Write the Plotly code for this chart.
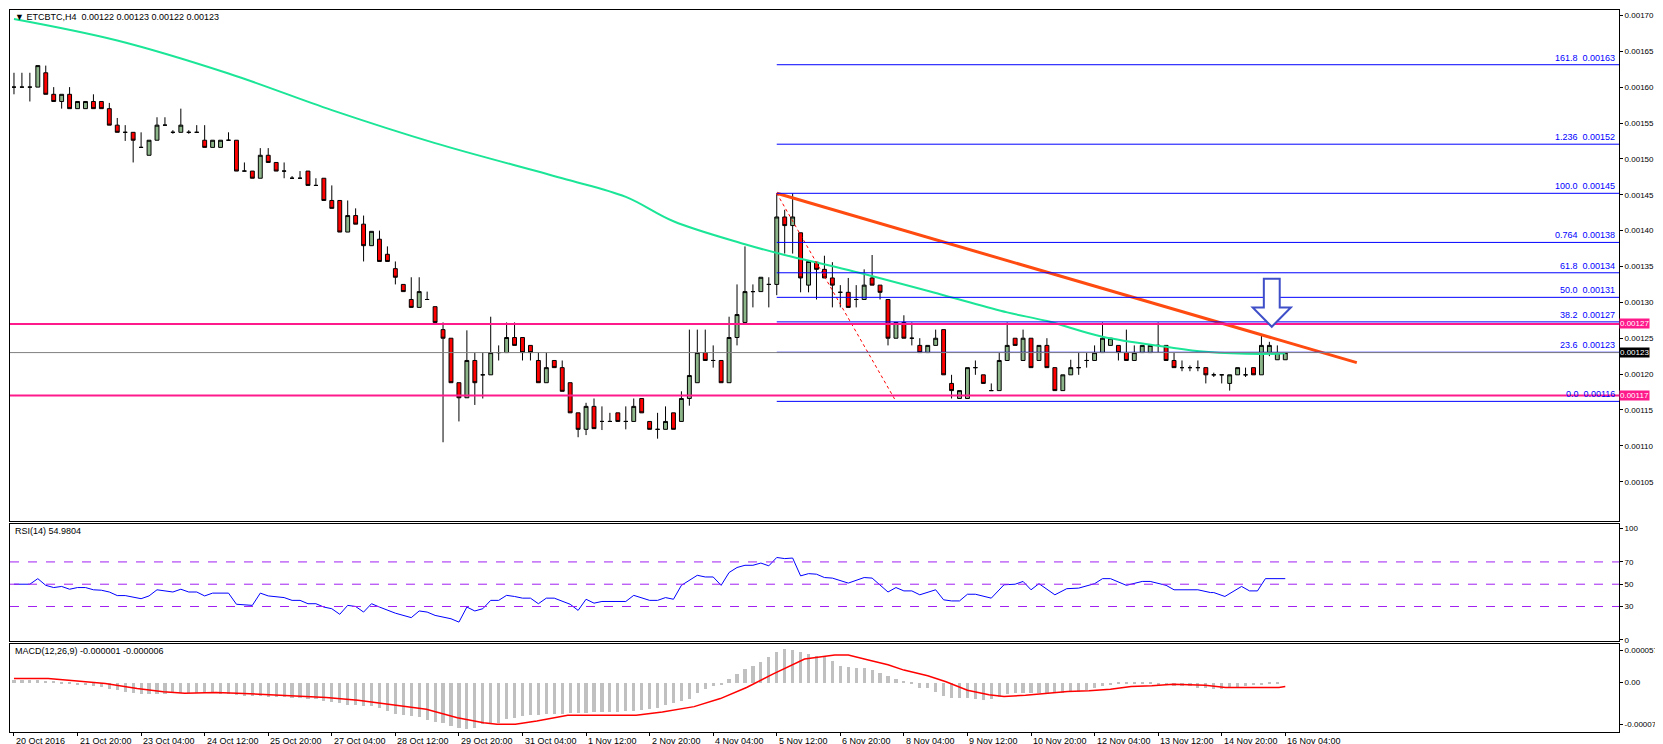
import plotly.graph_objects as go

# price data in units of 0.00001 BTC, H4 bars (bar 0 = 20 Oct 2016)
opens = [160,160,160,160,162,159,158,159,157,157,158,158,157,154.7,153.7,153.7,151.6,150.5,152.6,154.7,
         153.7,153.7,153.7,153.7,152.6,151.6,151.6,152.6,152.6,148.3,148.3,147.3,150.5,149.5,148.3,147.3,147.3,148.3,146.3,147.3,
         144.2,144.2,139.8,142.1,140.9,137.9,138.8,136.7,134.7,132.5,130.4,129.3,130.4,129.4,126.2,125,118.8,116.7,121.9,119.9,
         119.9,123,123,125.1,125.1,124,121.9,118.8,121.9,120.9,118.8,114.6,112.3,115.5,113.4,113.4,114.6,113.4,113.4,116.6,
         113.4,112.3,112.3,114.6,113.4,116.6,118.8,123,121.9,121.9,118.8,125.1,127.2,131.5,131.5,132.5,132.5,141.9,140.7,139.7,
         132.4,135.6,134.6,133.4,131.4,131.4,130.4,130.4,133.4,132.4,130.4,125,127.2,125,124,123,124,126.2,118.7,116.6,
         116.6,120.9,119.9,117.7,117.7,121.9,125,121.9,125,121.9,124,120.9,117.7,119.9,120.9,121.9,121.9,123,124,124,
         123,121.9,123,123,124,124,121.9,120.9,120.9,120.9,120.9,119.9,119.9,118.7,119.9,119.9,120.9,119.9,123,122,122]
highs = [162,162,162,163,163,160,159,160,158,158,159,158,157.8,155.7,154.7,153.7,153.7,152.6,155.8,155.8,
         154,157,154,154.7,154.7,152.6,152.6,153.7,152.6,149.5,148.3,151.5,151.5,149.5,149.5,147.6,148.3,148.3,147.3,147.3,
         146.3,144.2,144.2,143.1,142.1,139.9,140,137.8,135.7,132.5,133.5,133.5,131.5,129.4,127.2,125,118.8,126.1,123,123,
         128,124,127.2,127.2,125.1,124,123,123,121.9,121.9,118.8,114.6,116,116.6,115.5,114.6,114.6,115.5,116.6,116.6,
         113.4,114.6,115.5,114.6,117.6,126.2,126.2,126.2,124,121.9,128,132.5,137.8,132.5,133.5,133.5,145.2,142.9,145.2,139.7,
         135.7,135.6,136.5,135.6,132.4,133.4,132.4,134.6,136.6,132.4,130.4,127.2,128.2,127.2,125,124,126.2,126.2,119.9,117.7,
         120.9,121.9,119.9,118.7,123,127.2,125,126.2,125,124,125,120.9,119.9,122,123,123,124,127.2,125,124,
         126.2,124,124,124,127.2,124,123,121.9,121.2,121.9,120.9,120.2,119.9,119.9,120.9,120.9,120.9,125.5,124.5,124,123]
lows = [159,160,158,160,159,158,157,157,157,157,157,157,154.7,153.7,152.5,149.5,151.6,150.5,152.6,154.7,
        153.5,153.7,153.5,153.7,151.6,151.6,151.6,152.6,148.3,148.3,147.3,147.3,149.5,148.3,147.3,147.3,147.3,146.3,146.3,144.2,
        143.1,139.8,139.8,140.9,135.7,137.9,135.7,135.7,132.5,131.5,129.3,129.3,130.4,127.2,110.5,118.8,113.4,116.7,115.7,116.6,
        119.9,121.9,123,124,121.9,121.9,118.8,118.8,120.9,117.6,114.6,111.2,111.5,112.4,112.2,113.4,113.4,112.3,113.4,114.6,
        112.3,111,112.3,112.3,113.4,115.6,118.8,121.9,120.9,118.8,118.8,124,127.2,129.3,131.5,129.3,131,136.8,136.8,131.4,
        131.4,130.4,133.4,129.3,129.3,129.3,129.3,130.4,132.4,130.4,124,125,125,124,123,123,124,119.9,116.6,116.6,
        116.6,119.9,118.7,117.7,117.7,121.9,124,121.9,120.9,121.9,120.9,117.7,117.7,119.9,119.9,120.9,121.9,123,124,121.9,
        121.9,121.9,123,123,123,121.9,120.9,120.4,120.4,120.4,118.7,119.6,118.7,117.7,119.9,119.6,119.9,119.9,122.5,122,122]
closes = [160,160,160,163,159,158,159,157,158,158,157,157,154.7,153.7,153.7,152.6,151.6,152.6,154.7,154.7,
          153.7,154.7,153.7,153.7,151.6,152.6,152.6,152.6,148.3,148.3,147.3,150.5,149.5,148.3,148.3,147.3,147.3,146.3,146.3,144.2,
          143.1,139.8,142.1,140.9,137.9,139.9,135.7,135.7,133.5,131.5,129.3,131.5,130.4,127.2,125,118.8,116.7,121.9,118.8,119.9,
          123,123,125.1,124,123,123,118.8,120.9,120.9,117.6,114.6,112.3,115.5,112.4,113.4,113.4,113.4,113.4,115.5,114.6,
          112.3,112.3,113.4,112.3,116.6,119.8,123,121.9,121.9,118.8,125.1,128.3,131.5,131.5,133.5,132.5,141.9,140.7,141.9,133.4,
          135.7,134.6,133.4,132.4,131.4,129.3,130.4,132.4,132.4,131.4,125,127.2,125,125,123,124,125,119.9,117.7,117.7,
          120.9,120.9,118.7,117.7,121.9,124,124,125,120.9,124,120.9,117.7,119.9,120.9,120.9,121.9,123,125,125,123,
          121.9,123,124,124,124,121.9,120.9,120.9,120.9,120.9,119.9,119.9,119.9,119.9,120.9,119.9,119.9,124,124,123,123]

ma_bars = [0, 13, 27, 40, 53, 69, 77, 83, 92, 97, 105, 117, 125, 130, 137, 145, 150, 157, 160]
ma_vals = [169.5, 166.5, 161.9, 156.8, 152.2, 147.3, 144.7, 141.3, 138.1, 136.6, 134.5, 131.0, 128.6, 127.4, 125.2, 123.8, 123.1, 122.8, 122.9]

rsi_bars = [0,2,3,4,5,6,7,8,9,10,11,12,13,14,16,17,18,20,21,22,23,24,25,27,28,30,31,32,34,35,36,37,38,39,40,41,42,43,44,45,46,47,48,50,51,52,53,55,56,57,58,59,60,61,62,63,64,65,66,67,68,70,71,72,73,74,77,78,79,80,81,82,83,84,86,87,88,89,90,91,92,93,94,95,96,97,98,99,100,101,102,103,
            105,107,108,110,111,112,113,114,116,117,118,119,120,121,123,124.6,126,127,128,129,131,132.5,134,135.3,136,137,138,140,141,142,143,145,146,149,150.6,151,152.4,154.5,155.5,156.5,157.5,160]
rsi_vals = [50,50,55,49,47,48,45.5,47,47,45,44.6,43,39.8,39.8,37,39.5,45,43,45.5,43,43,39.5,42,42,32,31,42,39.5,38,35.5,35.5,32.5,32.5,29.5,28,23,31,30,25,32.5,29.5,27,24,20,26,25,22,19,16,29.5,26,28,35.5,35.5,40,39,37.5,37.5,32.5,37.5,37.5,32,26.5,36.5,33,34.5,34.5,40,38,35.5,35.5,38,36.5,49,58,56.5,56.5,49,60.5,65,67,67,69,66.5,74,73,73.5,57.5,59.5,59,56,55.5,
            51,56,55.5,43,47,44,44,40.5,45,36,35,35,41,41,37.5,49.5,50,52.5,45,50.5,40.5,46,46.5,49.5,50.5,55,55,49,50.5,52.5,52.5,49,45,45,42.5,42.5,39,48,44,44,55,55]

# MACD main (histogram) and signal, units of 0.000001
macd_hist = [5,5,5,4,3,1,-1,-3,-4,-5,-7,-8,-12,-14,-16,-18,-20,-21,-21,-21,-18,-18,-18,-18,-18,-19,-20,-21,-22,-23,-24,-24,-25,-25,
             -26,-27,-28,-29,-30,-33,-35,-37,-39,-40,-41,-42,-45,-50,-55,-58,-60,-62,-66,-70,-71,-77,-80,-82,-81,-74,-73,-71,-65,-63,
             -60,-58,-57,-56,-55,-55,-54,-54,-54,-53,-53,-52,-52,-51,-51,-49,-47,-45,-40,-36,-33,-30,-18,-12,-6,-5,7,15,24,28.6,36,45,54,60,57,54,51,48,45,
             39,30,27,26,26,23,17,12,6,1,-3,-9,-10,-16,-23,-28,-28,-28,-29,-31,-29,-25,-21,-18,-18,-18,-18,-18,-19,-18,-17,-16,-13,-9,-6,-4,
             -3,-3,-2,-3,-3,-4,-5,-6,-6,-7,-9,-10,-12,-12,-10,-10,-7,-5,-4,-3,-1]
sig_bars = [0,4.3,7.6,11.5,15.5,18.8,21.5,25.4,28.1,32,35.3,39.3,43.3,47.3,51.9,55.8,59.1,60.8,63.1,65.8,69.7,73.7,78.3,81.6,85.6,88.9,92.2,95.5,99.5,103.3,
            105,107.4,110,112,115,117.3,120,122.7,124.6,127.3,130,132.6,135.3,138,140.6,143.2,145.9,149.9,152.5,156.5,159.2,160]
sig_vals = [7.1,7.1,3,-1.8,-10.7,-16.7,-19,-17.9,-19,-22,-25,-26.8,-31.5,-38.7,-47.6,-62.5,-71.4,-74.4,-74.4,-68.5,-58.3,-58.3,-58.3,-52.4,-42.9,-28.6,-8.9,14.9,41.7,48.8,
            48.8,40.5,31.5,22,12,1.2,-13.7,-22,-25,-22.6,-19,-16,-14.9,-11.9,-7,-6,-3,-4.8,-8.9,-8.9,-8.9,-7.1]

tick_labels = ["20 Oct 2016", "21 Oct 20:00", "23 Oct 04:00", "24 Oct 12:00", "25 Oct 20:00", "27 Oct 04:00",
               "28 Oct 12:00", "29 Oct 20:00", "31 Oct 04:00", "1 Nov 12:00", "2 Nov 20:00", "4 Nov 04:00",
               "5 Nov 12:00", "6 Nov 20:00", "8 Nov 04:00", "9 Nov 12:00", "10 Nov 20:00", "12 Nov 04:00",
               "13 Nov 12:00", "14 Nov 20:00", "16 Nov 04:00"]
tick_bars = list(range(0, 161, 8))

fib_levels = ["161.8", "1.236", "100.0", "0.764", "61.8", "50.0", "38.2", "23.6", "0.0"]
fib_ratio = [1.618, 1.236, 1.0, 0.764, 0.618, 0.5, 0.382, 0.236, 0.0]
fib_low, fib_high = 116.2, 145.2

k = 1e-5
bars = list(range(len(closes)))
FONT = "Liberation Sans"

fig = go.Figure()
fig.add_trace(go.Candlestick(
    x=bars, open=[v * k for v in opens], high=[v * k for v in highs],
    low=[v * k for v in lows], close=[v * k for v in closes],
    increasing=dict(fillcolor="#8DB58A", line=dict(color="black", width=1)),
    decreasing=dict(fillcolor="#FF0000", line=dict(color="black", width=1)),
    whiskerwidth=0, xaxis="x", yaxis="y", showlegend=False, hoverinfo="skip"))
fig.add_trace(go.Scatter(x=ma_bars, y=[v * k for v in ma_vals], mode="lines", line_shape="spline",
                         line=dict(color="#1BE597", width=2), xaxis="x", yaxis="y", showlegend=False))

# trend line and fib diagonal
fig.add_trace(go.Scatter(x=[96, 169], y=[145.2 * k, 121.6 * k], mode="lines",
                         line=dict(color="#FF4A10", width=3), xaxis="x", yaxis="y", showlegend=False))
fig.add_trace(go.Scatter(x=[96, 111], y=[fib_high * k, fib_low * k], mode="lines",
                         line=dict(color="#FF0000", width=1, dash="dot"), xaxis="x", yaxis="y", showlegend=False))

fig.add_trace(go.Scatter(x=rsi_bars, y=rsi_vals, mode="lines", line=dict(color="#0000FF", width=1),
                         xaxis="x2", yaxis="y2", showlegend=False))
fig.add_trace(go.Bar(x=bars, y=[v * 1e-6 for v in macd_hist], marker=dict(color="#C0C0C0", line=dict(width=0)),
                     width=0.4, xaxis="x3", yaxis="y3", showlegend=False))
fig.add_trace(go.Scatter(x=sig_bars, y=[v * 1e-6 for v in sig_vals], mode="lines", line=dict(color="#FF0000", width=1.5),
                         xaxis="x3", yaxis="y3", showlegend=False))

shapes = []
annotations = []
for name, r in zip(fib_levels, fib_ratio):
    lvl = (fib_low + (fib_high - fib_low) * r) * k
    shapes.append(dict(type="line", xref="x", yref="y", x0=96, x1=202, y0=lvl, y1=lvl,
                       line=dict(color="#0000FF", width=1)))
    annotations.append(dict(xref="paper", yref="y", x=0.999, y=lvl, text=f"{name}  {lvl:.5f}",
                            showarrow=False, xanchor="right", yanchor="bottom",
                            font=dict(family=FONT, size=9, color="#0000FF")))

shapes.append(dict(type="line", xref="x domain", yref="y", x0=0, x1=1, y0=123e-5, y1=123e-5,
                   line=dict(color="#808080", width=1)))
for p in [127e-5, 117e-5]:
    shapes.append(dict(type="line", xref="x domain", yref="y", x0=0, x1=1, y0=p, y1=p,
                       line=dict(color="#FF1A8C", width=2)))
    annotations.append(dict(xref="paper", yref="y", x=1.0, y=p, text=f"{p:.5f}", showarrow=False,
                            xanchor="left", bgcolor="#FF1A8C", borderpad=0,
                            font=dict(family=FONT, size=8, color="white")))
annotations.append(dict(xref="paper", yref="y", x=1.0, y=123e-5, text="0.00123", showarrow=False,
                        xanchor="left", bgcolor="black", borderpad=0, font=dict(family=FONT, size=8, color="white")))

# hollow down arrow
ax = [157.3, 157.3, 155.9, 158.3, 160.7, 159.3, 159.3]
ay = [133.3, 129.3, 129.3, 126.6, 129.3, 129.3, 133.3]
path = "M " + " L ".join(f"{x},{y * k}" for x, y in zip(ax, ay)) + " Z"
shapes.append(dict(type="path", xref="x", yref="y", path=path, fillcolor="white",
                   line=dict(color="#3F4FC8", width=2)))

for lv in [70, 50, 30]:
    shapes.append(dict(type="line", xref="x2 domain", yref="y2", x0=0, x1=1, y0=lv, y1=lv,
                       line=dict(color="#A020F0", width=1, dash="dash")))

# date labels start at their tick, like the terminal does
for b, t in zip(tick_bars, tick_labels):
    annotations.append(dict(xref="x3", yref="paper", x=b, y=0, xanchor="left", yanchor="top", yshift=-2,
                            showarrow=False, text=t, font=dict(family=FONT, size=9, color="black")))

annotations += [
    dict(xref="paper", yref="paper", x=0.002, y=1.0, xanchor="left", yanchor="top", showarrow=False,
         text="▼ ETCBTC,H4  0.00122 0.00123 0.00122 0.00123", font=dict(family=FONT, size=9, color="black")),
    dict(xref="paper", yref="paper", x=0.002, y=0.288, xanchor="left", yanchor="top", showarrow=False,
         text="RSI(14) 54.9804", font=dict(family=FONT, size=9, color="black")),
    dict(xref="paper", yref="paper", x=0.002, y=0.122, xanchor="left", yanchor="top", showarrow=False,
         text="MACD(12,26,9) -0.000001 -0.000006", font=dict(family=FONT, size=9, color="black")),
]

axis_common = dict(showline=True, mirror=True, linecolor="black", linewidth=1, showgrid=False, zeroline=False,
                   tickfont=dict(family=FONT, size=8, color="black"), ticks="outside", ticklen=3, tickcolor="black")
no_ticks = {k2: v for k2, v in axis_common.items() if k2 != "ticks"}
xr = [-0.5, 202]
fig.update_layout(
    width=1663, height=744, paper_bgcolor="white", plot_bgcolor="white",
    margin=dict(l=2, r=52, t=2, b=20),
    bargap=0,
    xaxis=dict(domain=[0, 1], range=xr, anchor="y", showticklabels=False, ticks="",
               rangeslider=dict(visible=False), **no_ticks),
    xaxis2=dict(domain=[0, 1], range=xr, anchor="y2", matches="x", showticklabels=False, ticks="", **no_ticks),
    xaxis3=dict(domain=[0, 1], range=xr, anchor="y3", matches="x", tickvals=tick_bars,
                showticklabels=False, **axis_common),
    yaxis=dict(domain=[0.292, 1], range=[0.000995, 0.0017075], side="right", anchor="x",
               tickvals=[v * 1e-5 for v in range(105, 171, 5)], tickformat=".5f", **axis_common),
    yaxis2=dict(domain=[0.126, 0.288], range=[-1, 104], side="right", anchor="x2",
                tickvals=[0, 30, 50, 70, 100], **axis_common),
    yaxis3=dict(domain=[0, 0.122], range=[-88e-6, 68.5e-6], side="right", anchor="x3",
                tickvals=[57e-6, 0, -75e-6], ticktext=["0.000057", "0.00", "-0.000075"], **axis_common),
    shapes=shapes, annotations=annotations,
)

fig.write_html("out.html")
